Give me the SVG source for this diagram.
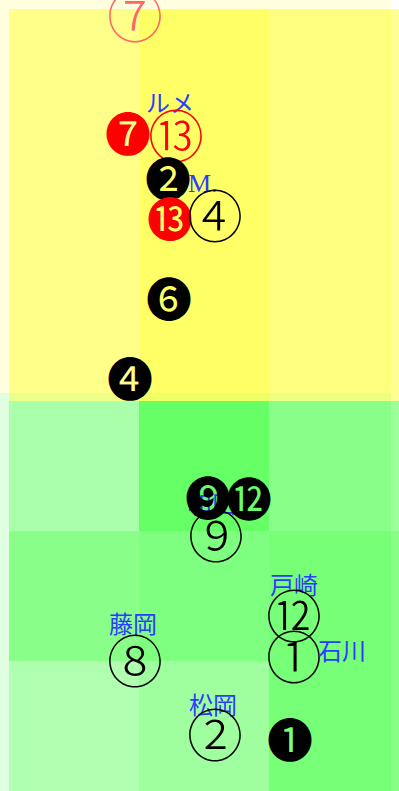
<svg xmlns="http://www.w3.org/2000/svg" width="399" height="791" viewBox="0 0 399 791">
<style>
.m{font-family:"Noto Sans CJK JP","DejaVu Sans",sans-serif;text-anchor:middle}
.o{font-size:56px;font-weight:300}
.f{font-size:46px}
.lbl{font-family:"Noto Sans CJK JP","Liberation Sans",sans-serif;font-size:24px;fill:#2a3cff;text-anchor:middle}
.lat{font-family:"Liberation Serif",serif;font-size:26px;fill:#2a3cff}
.y{fill:#ffff00}
.g{fill:#00ff00}
</style>
<rect x="0" y="0" width="399" height="791" fill="#ffffff"/>
<rect x="0" y="0" width="391" height="393" fill="#ffffe0"/>
<rect x="0" y="393" width="391" height="398" fill="#e0ffe0"/>
<g id="field">
<rect class="y" x="9" y="9" width="130" height="392" fill-opacity="0.39"/>
<rect class="y" x="139" y="9" width="130" height="392" fill-opacity="0.545"/>
<rect class="y" x="269" y="9" width="130" height="392" fill-opacity="0.43"/>
<rect class="g" x="9" y="401" width="130" height="130" fill-opacity="0.24"/>
<rect class="g" x="139" y="401" width="130" height="130" fill-opacity="0.545"/>
<rect class="g" x="269" y="401" width="130" height="130" fill-opacity="0.39"/>
<rect class="g" x="9" y="531" width="130" height="130" fill-opacity="0.39"/>
<rect class="g" x="139" y="531" width="130" height="130" fill-opacity="0.43"/>
<rect class="g" x="269" y="531" width="130" height="260" fill-opacity="0.47"/>
<rect class="g" x="9" y="661" width="130" height="130" fill-opacity="0.21"/>
<rect class="g" x="139" y="661" width="130" height="130" fill-opacity="0.29"/>
</g>
<g id="connectors"></g>
<g id="n7top"><text class="m o" x="135" y="37" fill="#ff6666">⑦</text></g>
<g id="lbl-rume"><text class="lbl" x="170" y="112">ルメ</text></g>
<g id="n7red"><text class="m f" x="128" y="151" fill="#ff0000">❼</text></g>
<g id="n13red"><text class="m o" x="176" y="157" fill="#ff0000">⑬</text></g>
<g id="n2"><text class="m f" x="168" y="196" fill="#000">❷</text></g>
<g id="lbl-m"><text class="lat" x="188" y="192">M.</text></g>
<g id="n13fill"><text class="m f" x="170" y="236" fill="#ff0000">⓭</text></g>
<g id="n4"><text class="m o" x="215" y="237" fill="#000">④</text></g>
<g id="n6"><text class="m f" x="169" y="316" fill="#000">❻</text></g>
<g id="n4fill"><text class="m f" x="130" y="396" fill="#000">❹</text></g>
<g id="lbl-wada"><text class="lbl" x="212" y="513">和田</text></g>
<g id="n9fill"><text class="m f" x="208" y="515" fill="#000">❾</text></g>
<g id="n12fill"><text class="m f" x="249" y="516" fill="#000">⓬</text></g>
<g id="n9"><text class="m o" x="216" y="557" fill="#000">⑨</text></g>
<g id="lbl-tosaki"><text class="lbl" x="294" y="594">戸崎</text></g>
<g id="n12"><text class="m o" x="294" y="637" fill="#000">⑫</text></g>
<g id="lbl-fujioka"><text class="lbl" x="133" y="633">藤岡</text></g>
<g id="n8"><text class="m o" x="135" y="682" fill="#000">⑧</text></g>
<g id="n1"><text class="m o" x="294" y="678" fill="#000">①</text></g>
<g id="lbl-ishikawa"><text class="lbl" x="342" y="660">石川</text></g>
<g id="lbl-matsuoka"><text class="lbl" x="213" y="714">松岡</text></g>
<g id="n2o"><text class="m o" x="215" y="756" fill="#000">②</text></g>
<g id="n1fill"><text class="m f" x="290" y="757" fill="#000">❶</text></g>
</svg>
